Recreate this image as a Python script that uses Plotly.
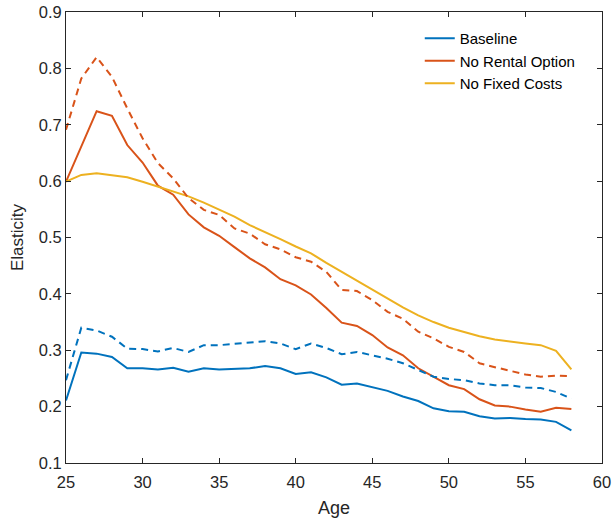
import plotly.graph_objects as go

age = list(range(25, 59))

baseline = [0.211, 0.296, 0.294, 0.288, 0.268, 0.268, 0.266, 0.269, 0.262, 0.268,
            0.266, 0.267, 0.268, 0.272, 0.268, 0.258, 0.261, 0.252, 0.239, 0.241,
            0.235, 0.228, 0.218, 0.210, 0.197, 0.192, 0.191, 0.183, 0.179, 0.180,
            0.178, 0.177, 0.173, 0.158]
baseline_dash = [0.247, 0.340, 0.335, 0.324, 0.303, 0.302, 0.298, 0.304, 0.297, 0.309,
                 0.309, 0.311, 0.313, 0.316, 0.312, 0.302, 0.312, 0.304, 0.293, 0.297,
                 0.291, 0.285, 0.277, 0.265, 0.253, 0.249, 0.247, 0.241, 0.238, 0.238,
                 0.234, 0.233, 0.226, 0.214]
no_rental = [0.599, 0.663, 0.724, 0.716, 0.664, 0.633, 0.592, 0.576, 0.541, 0.518,
             0.503, 0.483, 0.463, 0.447, 0.426, 0.415, 0.399, 0.375, 0.349, 0.343,
             0.327, 0.305, 0.291, 0.268, 0.253, 0.238, 0.231, 0.213, 0.202, 0.200,
             0.195, 0.191, 0.198, 0.196]
no_rental_dash = [0.691, 0.782, 0.820, 0.785, 0.729, 0.676, 0.632, 0.605, 0.570, 0.549,
                  0.540, 0.516, 0.507, 0.488, 0.479, 0.465, 0.457, 0.439, 0.407, 0.405,
                  0.389, 0.368, 0.356, 0.333, 0.321, 0.306, 0.297, 0.277, 0.270, 0.263,
                  0.257, 0.253, 0.255, 0.254]
no_fixed = [0.599, 0.611, 0.614, 0.611, 0.607, 0.599, 0.590, 0.581, 0.573, 0.562,
            0.549, 0.537, 0.522, 0.510, 0.497, 0.484, 0.472, 0.455, 0.439, 0.423,
            0.407, 0.391, 0.376, 0.362, 0.350, 0.340, 0.332, 0.325, 0.319, 0.315,
            0.312, 0.309, 0.299, 0.266]

x_ticks = [25, 30, 35, 40, 45, 50, 55, 60]
y_ticks = [0.1, 0.2, 0.3, 0.4, 0.5, 0.6, 0.7, 0.8, 0.9]

BLUE = "#0072BD"
ORANGE = "#D95319"
YELLOW = "#EDB120"
DASH = "7px,5px"
AX = "#262626"

fig = go.Figure()
fig.add_trace(go.Scatter(x=age, y=baseline, mode="lines", name="Baseline",
                         line=dict(color=BLUE, width=2)))
fig.add_trace(go.Scatter(x=age, y=no_rental, mode="lines", name="No Rental Option",
                         line=dict(color=ORANGE, width=2)))
fig.add_trace(go.Scatter(x=age, y=no_fixed, mode="lines", name="No Fixed Costs",
                         line=dict(color=YELLOW, width=2)))
fig.add_trace(go.Scatter(x=age, y=baseline_dash, mode="lines", showlegend=False,
                         line=dict(color=BLUE, width=2, dash=DASH)))
fig.add_trace(go.Scatter(x=age, y=no_rental_dash, mode="lines", showlegend=False,
                         line=dict(color=ORANGE, width=2, dash=DASH)))

axis_common = dict(showline=True, linecolor=AX, linewidth=1, mirror="ticks",
                   ticks="inside", ticklen=5, tickcolor=AX, showgrid=False,
                   zeroline=False, automargin=False,
                   tickfont=dict(size=16.5, color=AX))

fig.update_xaxes(range=[25, 60], tickvals=x_ticks, ticktext=[str(v) for v in x_ticks],
                 ticklabelstandoff=4,
                 title=dict(text="Age", font=dict(size=18, color=AX), standoff=11),
                 **axis_common)
fig.update_yaxes(range=[0.1, 0.9], tickvals=y_ticks, ticktext=[f"{v:.1f}" for v in y_ticks],
                 title=dict(text="Elasticity", font=dict(size=17, color=AX), standoff=10),
                 **axis_common)

fig.update_layout(
    width=613, height=523,
    margin=dict(l=66, r=11, t=12, b=60),
    paper_bgcolor="white", plot_bgcolor="white",
    font=dict(family="Liberation Sans, Arial, sans-serif", size=16, color=AX),
    legend=dict(x=0.66, y=0.978, xanchor="left", yanchor="top",
                bgcolor="rgba(255,255,255,0)", borderwidth=0,
                font=dict(size=15, color="#000000"), tracegroupgap=0),
)

fig.write_html("out.html", config={"displayModeBar": False},
               post_script="document.body.style.margin='0';document.body.style.padding='0';")
